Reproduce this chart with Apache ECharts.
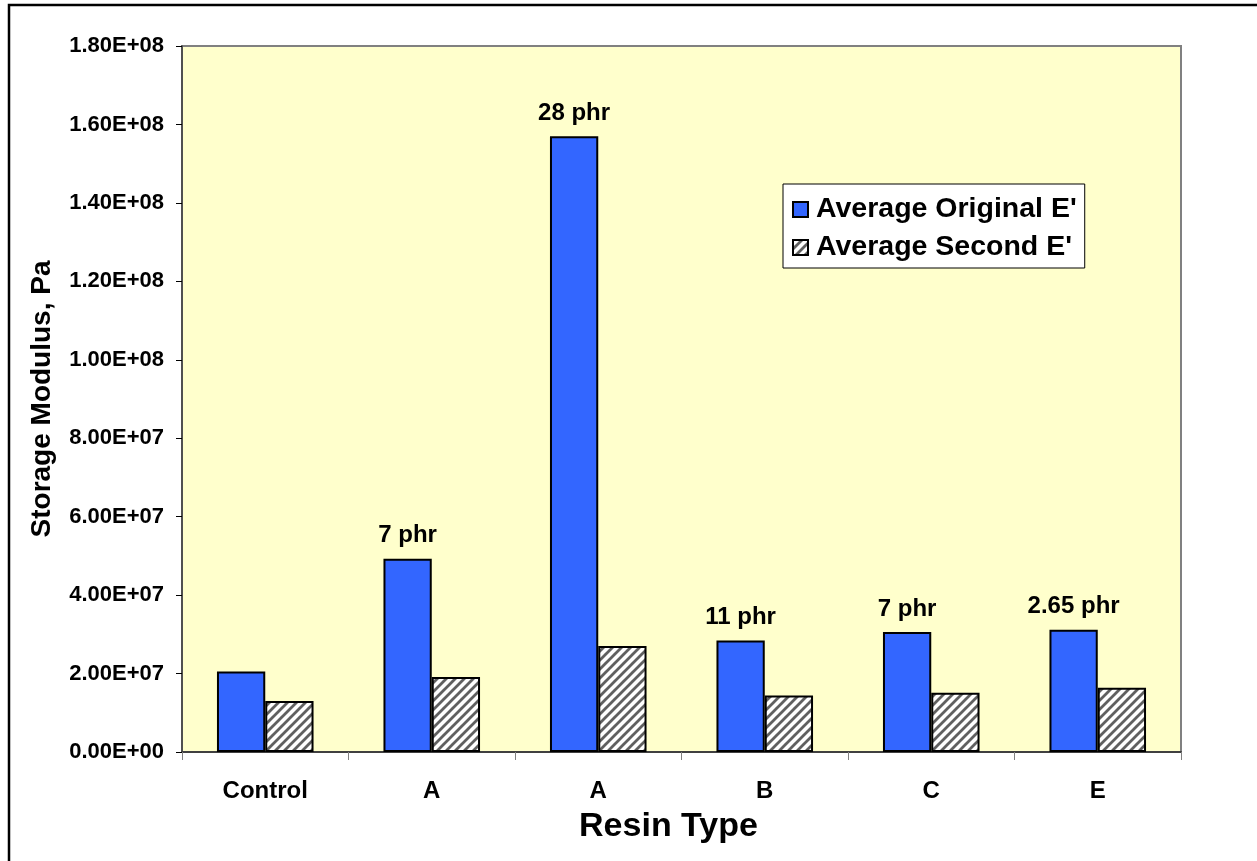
<!DOCTYPE html>
<html>
<head>
<meta charset="utf-8">
<script src="https://cdn.jsdelivr.net/npm/echarts@6/dist/echarts.min.js"></script>
<style>
  html, body { margin: 0; padding: 0; background: #ffffff; }
  #chart { width: 1257px; height: 861px; }
</style>
</head>
<body>
<div id="chart"></div>
<script>
// Resin types on the category axis
const categories = ['Control', 'A', 'A', 'B', 'C', 'E'];
// Average storage modulus values (Pa)
const originalE = [2.05e7, 4.93e7, 1.57e8, 2.84e7, 3.06e7, 3.12e7];
const secondE = [1.30e7, 1.91e7, 2.70e7, 1.44e7, 1.51e7, 1.64e7];
// Resin loading shown above the original bars
const loadings = ['', '7 phr', '28 phr', '11 phr', '7 phr', '2.65 phr'];

const FONT = '"Liberation Sans", Arial, sans-serif';

// Diagonal hatch fill for the second-measurement bars
function hatchPattern() {
  const s = 9;
  const c = document.createElement('canvas');
  c.width = s; c.height = s;
  const g = c.getContext('2d');
  g.fillStyle = '#ffffff';
  g.fillRect(0, 0, s, s);
  g.strokeStyle = '#606060';
  g.lineWidth = 2.8;
  g.beginPath();
  g.moveTo(-1, s + 1); g.lineTo(s + 1, -1);
  g.moveTo(-1, 1); g.lineTo(1, -1);
  g.moveTo(s - 1, s + 1); g.lineTo(s + 1, s - 1);
  g.stroke();
  return c;
}

const chart = echarts.init(document.getElementById('chart'), null, { renderer: 'canvas' });

// Scientific notation tick labels, e.g. 1.80E+08
function fmtSci(v) {
  if (v === 0) return '0.00E+00';
  const e = Math.floor(Math.log10(v));
  const m = v / Math.pow(10, e);
  return m.toFixed(2) + 'E+' + String(e).padStart(2, '0');
}

chart.setOption({
  backgroundColor: '#ffffff',
  animation: false,
  graphic: [{
    type: 'rect',
    shape: { x: 9, y: 5, width: 1262, height: 880 },
    style: { fill: 'none', stroke: '#000000', lineWidth: 2.5 },
    silent: true
  }],
  grid: {
    left: 182, right: 76, top: 46, bottom: 109,
    show: true,
    backgroundColor: '#FFFFCC',
    borderColor: '#808080',
    borderWidth: 2
  },
  legend: {
    orient: 'vertical',
    left: 783, top: 184,
    padding: [11, 8, 6, 9],
    itemGap: 9,
    itemWidth: 15, itemHeight: 15,
    backgroundColor: '#ffffff',
    borderColor: '#000000',
    borderWidth: 1,
    textStyle: { fontFamily: FONT, fontWeight: 'bold', fontSize: 28.5, color: '#000000', padding: [0, 0, 0, 3] },
    data: [
      { name: "Average Original E'", icon: 'rect' },
      { name: "Average Second E'", icon: 'rect' }
    ]
  },
  xAxis: {
    type: 'category',
    data: categories,
    name: 'Resin Type',
    nameLocation: 'middle',
    nameGap: 58,
    nameTextStyle: { fontFamily: FONT, fontWeight: 'bold', fontSize: 34, color: '#000000', padding: [0, 26, 0, 0] },
    axisLine: { lineStyle: { color: '#404040', width: 2 } },
    axisTick: { show: true, length: 8, lineStyle: { color: '#808080', width: 1 } },
    axisLabel: { margin: 27, fontFamily: FONT, fontWeight: 'bold', fontSize: 24, color: '#000000' }
  },
  yAxis: {
    type: 'value',
    min: 0, max: 1.8e8, interval: 2e7,
    name: 'Storage Modulus, Pa',
    nameLocation: 'middle',
    nameGap: 126,
    nameTextStyle: { fontFamily: FONT, fontWeight: 'bold', fontSize: 28, color: '#000000' },
    splitLine: { show: false },
    axisLine: { show: true, lineStyle: { color: '#404040', width: 1.5 } },
    axisTick: { show: true, length: 6, lineStyle: { color: '#000000', width: 1 } },
    axisLabel: {
      margin: 18,
      fontFamily: FONT, fontWeight: 'bold', fontSize: 22, color: '#000000',
      formatter: fmtSci
    }
  },
  series: [
    {
      name: "Average Original E'",
      type: 'bar',
      data: originalE,
      barGap: '0%',
      barCategoryGap: '42%',
      itemStyle: { color: '#3366FF', borderColor: '#000000', borderWidth: 2 },
      label: {
        show: true,
        position: 'top',
        distance: 11,
        fontFamily: FONT, fontWeight: 'bold', fontSize: 24, color: '#000000',
        formatter: p => loadings[p.dataIndex]
      }
    },
    {
      name: "Average Second E'",
      type: 'bar',
      data: secondE,
      itemStyle: {
        color: { image: hatchPattern(), repeat: 'repeat' },
        borderColor: '#000000', borderWidth: 2
      }
    }
  ]
});
</script>
</body>
</html>
